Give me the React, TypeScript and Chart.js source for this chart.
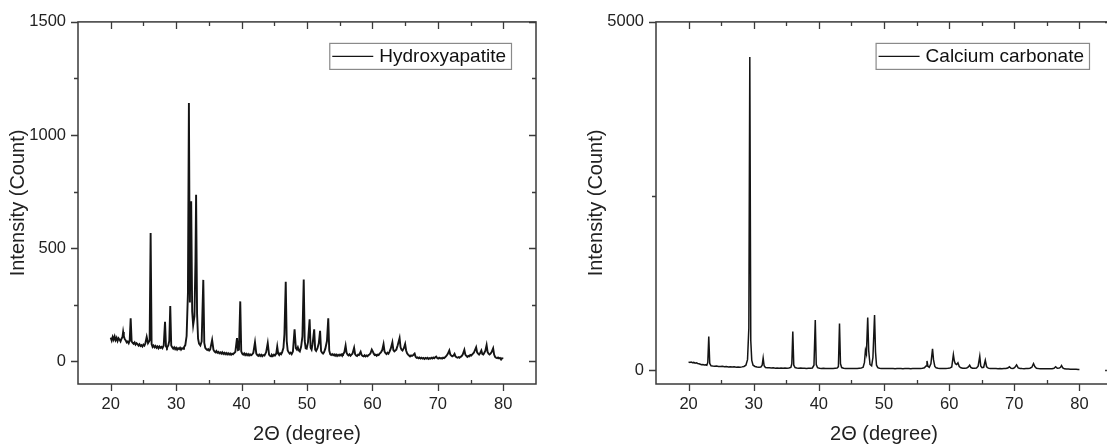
import React, { useEffect, useRef } from "react";
import { Chart, registerables } from "chart.js";

Chart.register(...registerables);

const FONT = "'Liberation Sans', Arial, Helvetica, sans-serif";

// Axis ticks
const xMajorTicks = [20, 30, 40, 50, 60, 70, 80];
const xMinorTicks = [25, 35, 45, 55, 65, 75];
const hapYMajor = [0, 500, 1000, 1500];
const hapYMinor = [250, 750, 1250];
const caYMajor = [0, 5000];
const caYMinor = [2500];

const hapLabel = "Hydroxyapatite";
const caLabel = "Calcium carbonate";

// Hydroxyapatite XRD pattern: [2θ (degree), intensity (count)]
const hapPattern: [number, number][] = [
  [20.0, 105], [20.15, 92], [20.3, 108], [20.45, 96], [20.6, 110], [20.75, 94], [20.9, 104], [21.05, 90],
  [21.2, 102], [21.35, 96], [21.5, 88], [21.65, 100], [21.8, 108], [21.9, 130], [22.0, 112], [22.15, 98],
  [22.3, 92], [22.45, 84], [22.6, 88], [22.75, 80], [22.9, 92], [23.05, 190], [23.2, 88], [23.35, 82],
  [23.5, 78], [23.65, 84], [23.8, 74], [23.95, 80], [24.1, 76], [24.25, 70], [24.4, 76], [24.55, 68],
  [24.7, 72], [24.85, 66], [25.0, 74], [25.15, 70], [25.3, 80], [25.5, 108], [25.7, 80], [25.95, 92],
  [26.1, 567], [26.25, 76], [26.4, 64], [26.55, 70], [26.7, 62], [26.85, 68], [27.0, 60], [27.15, 66],
  [27.3, 58], [27.45, 66], [27.6, 60], [27.75, 64], [27.9, 58], [28.1, 70], [28.3, 175], [28.45, 66],
  [28.6, 60], [28.8, 70], [28.95, 90], [29.1, 245], [29.25, 70], [29.4, 62], [29.55, 56], [29.7, 62],
  [29.85, 54], [30.0, 60], [30.15, 52], [30.3, 58], [30.45, 54], [30.6, 60], [30.75, 52], [30.9, 58],
  [31.05, 56], [31.2, 62], [31.4, 72], [31.6, 112], [31.8, 300], [31.95, 1142], [32.1, 260], [32.3, 707],
  [32.45, 220], [32.6, 160], [32.8, 200], [32.95, 440], [33.05, 736], [33.2, 210], [33.35, 100], [33.5, 78],
  [33.7, 70], [33.9, 88], [34.15, 360], [34.3, 82], [34.45, 60], [34.6, 54], [34.75, 50], [34.9, 54],
  [35.05, 48], [35.2, 52], [35.5, 95], [35.7, 52], [35.85, 44], [36.0, 40], [36.15, 46], [36.3, 38],
  [36.45, 42], [36.6, 36], [36.75, 40], [36.9, 34], [37.05, 40], [37.2, 33], [37.35, 38], [37.5, 32],
  [37.65, 37], [37.8, 31], [37.95, 36], [38.1, 30], [38.25, 35], [38.4, 29], [38.55, 34], [38.7, 31],
  [38.85, 36], [39.05, 42], [39.3, 103], [39.45, 50], [39.6, 52], [39.8, 265], [39.95, 44], [40.1, 34],
  [40.25, 30], [40.4, 35], [40.55, 28], [40.7, 33], [40.85, 27], [41.0, 32], [41.15, 26], [41.3, 31],
  [41.45, 27], [41.6, 30], [41.8, 38], [42.05, 84], [42.25, 34], [42.4, 28], [42.55, 24], [42.7, 30],
  [42.85, 24], [43.0, 29], [43.15, 23], [43.3, 28], [43.5, 26], [43.75, 40], [44.0, 81], [44.2, 30],
  [44.35, 25], [44.5, 22], [44.65, 28], [44.8, 24], [44.95, 30], [45.1, 26], [45.3, 34], [45.45, 65],
  [45.6, 34], [45.75, 28], [45.9, 36], [46.05, 32], [46.2, 40], [46.4, 60], [46.55, 120], [46.75, 352],
  [46.9, 90], [47.05, 48], [47.2, 40], [47.35, 34], [47.5, 38], [47.65, 32], [47.85, 44], [48.1, 142],
  [48.3, 58], [48.45, 52], [48.6, 62], [48.75, 48], [48.9, 44], [49.1, 64], [49.3, 110], [49.5, 362],
  [49.65, 90], [49.8, 58], [49.95, 56], [50.15, 84], [50.4, 186], [50.55, 60], [50.7, 52], [50.85, 76],
  [51.1, 142], [51.25, 52], [51.4, 46], [51.6, 58], [51.8, 80], [52.0, 135], [52.15, 46], [52.3, 38],
  [52.45, 34], [52.6, 40], [52.8, 56], [53.05, 90], [53.25, 190], [53.4, 48], [53.55, 32], [53.7, 28],
  [53.85, 32], [54.0, 27], [54.15, 31], [54.3, 25], [54.45, 30], [54.6, 24], [54.75, 29], [54.9, 25],
  [55.05, 30], [55.2, 26], [55.35, 32], [55.5, 30], [55.7, 40], [55.9, 70], [56.05, 38], [56.2, 30],
  [56.35, 26], [56.5, 31], [56.65, 25], [56.8, 30], [56.95, 34], [57.2, 60], [57.35, 32], [57.5, 26],
  [57.65, 24], [57.8, 30], [57.95, 28], [58.2, 42], [58.35, 28], [58.5, 24], [58.65, 22], [58.8, 27],
  [58.95, 22], [59.1, 26], [59.25, 23], [59.4, 28], [59.55, 30], [59.7, 36], [59.9, 52], [60.05, 44],
  [60.2, 34], [60.35, 28], [60.5, 30], [60.65, 25], [60.8, 30], [60.95, 28], [61.1, 34], [61.3, 40],
  [61.5, 50], [61.7, 76], [61.85, 44], [62.0, 36], [62.15, 32], [62.3, 38], [62.45, 34], [62.6, 42],
  [62.8, 56], [63.05, 84], [63.2, 50], [63.35, 44], [63.5, 48], [63.65, 52], [63.85, 70], [64.15, 103],
  [64.3, 62], [64.45, 52], [64.6, 48], [64.8, 58], [65.0, 77], [65.15, 48], [65.3, 36], [65.45, 30],
  [65.6, 26], [65.75, 22], [65.9, 26], [66.05, 24], [66.25, 28], [66.45, 34], [66.6, 20], [66.75, 16],
  [66.9, 18], [67.05, 14], [67.2, 17], [67.35, 13], [67.5, 16], [67.65, 12], [67.8, 15], [67.95, 11],
  [68.1, 15], [68.25, 12], [68.4, 16], [68.55, 11], [68.7, 14], [68.85, 12], [69.0, 16], [69.15, 13],
  [69.3, 17], [69.45, 14], [69.6, 18], [69.75, 21], [69.9, 15], [70.05, 12], [70.2, 16], [70.35, 13],
  [70.5, 15], [70.65, 12], [70.8, 16], [70.95, 14], [71.1, 18], [71.3, 24], [71.5, 32], [71.75, 48],
  [71.9, 30], [72.05, 26], [72.2, 22], [72.4, 26], [72.55, 33], [72.7, 22], [72.85, 18], [73.0, 16],
  [73.15, 19], [73.3, 16], [73.45, 20], [73.6, 22], [73.8, 30], [74.05, 51], [74.2, 30], [74.35, 24],
  [74.5, 20], [74.65, 24], [74.8, 22], [74.95, 28], [75.1, 26], [75.3, 32], [75.5, 38], [75.85, 62],
  [76.0, 40], [76.15, 34], [76.3, 30], [76.45, 36], [76.65, 48], [76.8, 32], [76.95, 30], [77.1, 38],
  [77.25, 46], [77.45, 72], [77.6, 42], [77.75, 34], [77.9, 30], [78.05, 34], [78.2, 40], [78.45, 58],
  [78.6, 30], [78.75, 20], [78.9, 16], [79.05, 14], [79.2, 17], [79.35, 13], [79.5, 15], [79.65, 11],
  [79.8, 14], [80.0, 12],
];

// Calcium carbonate XRD pattern: [2θ (degree), intensity (count)]
const caPattern: [number, number][] = [
  [20.0, 117], [20.2, 108], [20.4, 114], [20.6, 106], [20.8, 110], [21.0, 100], [21.2, 104], [21.4, 94],
  [21.6, 90], [21.8, 84], [22.0, 76], [22.2, 80], [22.4, 72], [22.6, 76], [22.8, 70], [22.95, 110],
  [23.1, 480], [23.25, 95], [23.45, 62], [23.7, 58], [24.0, 55], [24.3, 58], [24.6, 52], [24.9, 50],
  [25.2, 54], [25.5, 48], [25.8, 50], [26.1, 45], [26.4, 48], [26.7, 44], [27.0, 46], [27.3, 42],
  [27.6, 44], [27.9, 42], [28.2, 46], [28.5, 52], [28.8, 70], [29.05, 150], [29.25, 600], [29.4, 4496],
  [29.55, 420], [29.7, 140], [29.9, 70], [30.2, 52], [30.5, 44], [30.8, 40], [31.1, 44], [31.3, 70],
  [31.45, 174], [31.6, 62], [31.8, 38], [32.1, 34], [32.4, 32], [32.7, 30], [33.0, 32], [33.3, 28],
  [33.6, 30], [33.9, 27], [34.2, 29], [34.5, 26], [34.8, 28], [35.1, 27], [35.4, 30], [35.7, 38],
  [35.85, 90], [36.0, 555], [36.15, 70], [36.35, 36], [36.6, 30], [36.9, 27], [37.2, 28], [37.5, 25],
  [37.8, 27], [38.1, 24], [38.4, 26], [38.7, 25], [39.0, 30], [39.25, 70], [39.45, 720], [39.6, 80],
  [39.8, 34], [40.1, 26], [40.4, 24], [40.7, 25], [41.0, 22], [41.3, 24], [41.6, 22], [41.9, 24],
  [42.2, 22], [42.5, 25], [42.8, 28], [43.0, 50], [43.17, 668], [43.32, 90], [43.5, 36], [43.8, 26],
  [44.1, 23], [44.4, 24], [44.7, 22], [45.0, 23], [45.3, 21], [45.6, 23], [45.9, 24], [46.2, 26],
  [46.5, 28], [46.8, 40], [47.0, 110], [47.15, 282], [47.3, 230], [47.5, 753], [47.65, 280], [47.85, 80],
  [48.1, 60], [48.3, 180], [48.55, 791], [48.7, 260], [48.85, 70], [49.05, 36], [49.3, 26], [49.6, 24],
  [49.9, 22], [50.2, 24], [50.5, 21], [50.8, 23], [51.1, 21], [51.4, 23], [51.7, 20], [52.0, 22],
  [52.3, 21], [52.6, 23], [52.9, 20], [53.2, 22], [53.5, 21], [53.8, 22], [54.1, 20], [54.4, 22],
  [54.7, 21], [55.0, 22], [55.3, 21], [55.6, 23], [55.9, 26], [56.2, 32], [56.45, 60], [56.6, 131],
  [56.75, 54], [56.95, 40], [57.2, 90], [57.45, 306], [57.6, 150], [57.8, 52], [58.0, 32], [58.3, 26],
  [58.6, 24], [58.9, 22], [59.2, 24], [59.5, 23], [59.8, 25], [60.1, 28], [60.4, 44], [60.65, 222],
  [60.8, 130], [60.95, 90], [61.15, 80], [61.35, 104], [61.55, 50], [61.8, 32], [62.1, 27], [62.4, 26],
  [62.7, 30], [62.95, 44], [63.15, 70], [63.35, 36], [63.6, 27], [63.9, 26], [64.2, 30], [64.45, 56],
  [64.7, 198], [64.85, 60], [65.05, 34], [65.3, 40], [65.55, 141], [65.75, 48], [66.0, 28], [66.3, 24],
  [66.6, 22], [66.9, 21], [67.2, 22], [67.5, 20], [67.8, 21], [68.1, 20], [68.4, 21], [68.7, 22],
  [69.0, 30], [69.25, 47], [69.5, 26], [69.8, 24], [70.05, 36], [70.35, 75], [70.6, 32], [70.9, 23],
  [71.2, 21], [71.5, 20], [71.8, 21], [72.1, 22], [72.4, 26], [72.7, 40], [72.95, 94], [73.15, 50],
  [73.4, 26], [73.7, 21], [74.0, 19], [74.3, 20], [74.6, 18], [74.9, 19], [75.2, 18], [75.5, 19],
  [75.8, 20], [76.1, 26], [76.35, 47], [76.6, 26], [76.9, 28], [77.1, 40], [77.25, 66], [77.45, 32],
  [77.7, 18], [78.0, 15], [78.3, 14], [78.6, 13], [78.9, 12], [79.2, 12], [79.5, 11], [79.8, 10],
  [80.0, 10],
];

type FrameOpts = {
  xMajor: number[];
  xMinor: number[];
  yMajor: number[];
  yMinor: number[];
  legendRight: number;
  legendTop: number;
};

const framePlugin = {
  id: "frame",
  afterDatasetsDraw(chart: any, _args: any, opts: FrameOpts) {
    const { ctx, chartArea, scales } = chart;
    const { left, right, top, bottom } = chartArea;
    const x = scales.x;
    const y = scales.y;
    ctx.save();
    ctx.strokeStyle = "#3a3a3a";
    ctx.lineWidth = 1.5;
    ctx.strokeRect(left, top, right - left, bottom - top);
    ctx.lineWidth = 1.3;
    ctx.beginPath();
    const maj = 7;
    const min = 4;
    for (const v of opts.xMajor) {
      const px = Math.round(x.getPixelForValue(v)) + 0.5;
      ctx.moveTo(px, bottom);
      ctx.lineTo(px, bottom + maj);
      ctx.moveTo(px, top);
      ctx.lineTo(px, top + maj);
    }
    for (const v of opts.xMinor) {
      const px = Math.round(x.getPixelForValue(v)) + 0.5;
      ctx.moveTo(px, bottom);
      ctx.lineTo(px, bottom - min);
      ctx.moveTo(px, top);
      ctx.lineTo(px, top + min);
    }
    for (const v of opts.yMajor) {
      const py = Math.round(y.getPixelForValue(v)) + 0.5;
      ctx.moveTo(left - maj, py);
      ctx.lineTo(left, py);
      ctx.moveTo(right - maj, py);
      ctx.lineTo(right, py);
    }
    for (const v of opts.yMinor) {
      const py = Math.round(y.getPixelForValue(v)) + 0.5;
      ctx.moveTo(left - min, py);
      ctx.lineTo(left, py);
      ctx.moveTo(right - min, py);
      ctx.lineTo(right, py);
    }
    ctx.stroke();

    // legend
    const ds = chart.data.datasets[0];
    ctx.font = `19px ${FONT}`;
    const tw = ctx.measureText(ds.label).width;
    const boxW = 3 + 41 + 6 + tw + 5;
    const boxH = 26;
    const bx = right - opts.legendRight - boxW;
    const by = top + opts.legendTop;
    ctx.fillStyle = "#ffffff";
    ctx.fillRect(bx, by, boxW, boxH);
    ctx.strokeStyle = "#8a8a8a";
    ctx.lineWidth = 1.2;
    ctx.strokeRect(bx + 0.5, by + 0.5, boxW, boxH);
    ctx.strokeStyle = ds.borderColor;
    ctx.lineWidth = 1.4;
    ctx.beginPath();
    ctx.moveTo(bx + 3, by + boxH / 2 + 0.5);
    ctx.lineTo(bx + 44, by + boxH / 2 + 0.5);
    ctx.stroke();
    ctx.fillStyle = "#111";
    ctx.textBaseline = "middle";
    ctx.textAlign = "left";
    ctx.fillText(ds.label, bx + 50, by + boxH / 2 + 1);
    ctx.restore();
  },
};

type PanelProps = {
  label: string;
  pattern: [number, number][];
  yMin: number;
  yMax: number;
  yMajor: number[];
  yMinor: number[];
  yAxisWidth: number;
  yTitlePad: number;
  rightPad: number;
  lineWidth: number;
  legendRight: number;
};

function Panel(p: PanelProps) {
  const ref = useRef<HTMLCanvasElement | null>(null);
  useEffect(() => {
    if (!ref.current) return;
    const chart = new Chart(ref.current, {
      type: "line",
      data: {
        datasets: [
          {
            label: p.label,
            data: p.pattern.map(([a, c]) => ({ x: a, y: c })),
            borderColor: "#141414",
            borderWidth: p.lineWidth,
            pointRadius: 0,
            tension: 0,
            fill: false,
          },
        ],
      },
      options: {
        animation: false,
        responsive: false,
        maintainAspectRatio: false,
        events: [],
        layout: { padding: { top: 16, right: p.rightPad, left: 0, bottom: 0 } },
        plugins: {
          legend: { display: false },
          tooltip: { enabled: false },
          frame: {
            xMajor: xMajorTicks,
            xMinor: xMinorTicks,
            yMajor: p.yMajor,
            yMinor: p.yMinor,
            legendRight: p.legendRight,
            legendTop: 21,
          },
        } as any,
        scales: {
          x: {
            type: "linear",
            min: 15,
            max: 85,
            afterBuildTicks: (s: any) => {
              s.ticks = xMajorTicks.map((v) => ({ value: v }));
            },
            afterFit: (s: any) => {
              s.height = 62;
            },
            grid: { display: false, drawTicks: false },
            border: { display: false },
            ticks: {
              padding: 11,
              autoSkip: false,
              maxRotation: 0,
              color: "#222",
              font: { family: FONT, size: 16.5 },
              callback: (v: any) => String(v),
            },
            title: {
              display: true,
              text: "2Θ (degree)",
              color: "#222",
              font: { family: FONT, size: 20 },
              padding: { top: 0, bottom: 0 },
            },
          },
          y: {
            type: "linear",
            min: p.yMin,
            max: p.yMax,
            afterBuildTicks: (s: any) => {
              s.ticks = p.yMajor.map((v) => ({ value: v }));
            },
            afterFit: (s: any) => {
              s.width = p.yAxisWidth;
            },
            grid: { display: false, drawTicks: false },
            border: { display: false },
            ticks: {
              padding: 12,
              autoSkip: false,
              color: "#222",
              font: { family: FONT, size: 16.5 },
              callback: (v: any) => String(v),
            },
            title: {
              display: true,
              text: "Intensity (Count)",
              color: "#222",
              font: { family: FONT, size: 20 },
              padding: { top: p.yTitlePad, bottom: 0 },
            },
          },
        },
      },
      plugins: [framePlugin],
    } as any);
    return () => chart.destroy();
  }, []);
  return <canvas ref={ref} width={560} height={446} style={{ display: "block", width: 560, height: 446 }} />;
}

export default function App() {
  return (
    <div
      style={{
        position: "fixed",
        left: 0,
        top: 0,
        width: 1107,
        height: 446,
        overflow: "hidden",
        background: "#fff",
      }}
    >
      <div style={{ position: "absolute", left: 0, top: 0 }}>
        <Panel
          label={hapLabel}
          pattern={hapPattern}
          yMin={-100}
          yMax={1500}
          yMajor={hapYMajor}
          yMinor={hapYMinor}
          yAxisWidth={78}
          yTitlePad={6}
          rightPad={24}
          lineWidth={1.9}
          legendRight={25}
        />
      </div>
      <div style={{ position: "absolute", left: 560, top: 0 }}>
        <Panel
          label={caLabel}
          pattern={caPattern}
          yMin={-200}
          yMax={5000}
          yMajor={caYMajor}
          yMinor={caYMinor}
          yAxisWidth={96}
          yTitlePad={24}
          rightPad={8}
          lineWidth={1.5}
          legendRight={23}
        />
      </div>
    </div>
  );
}
